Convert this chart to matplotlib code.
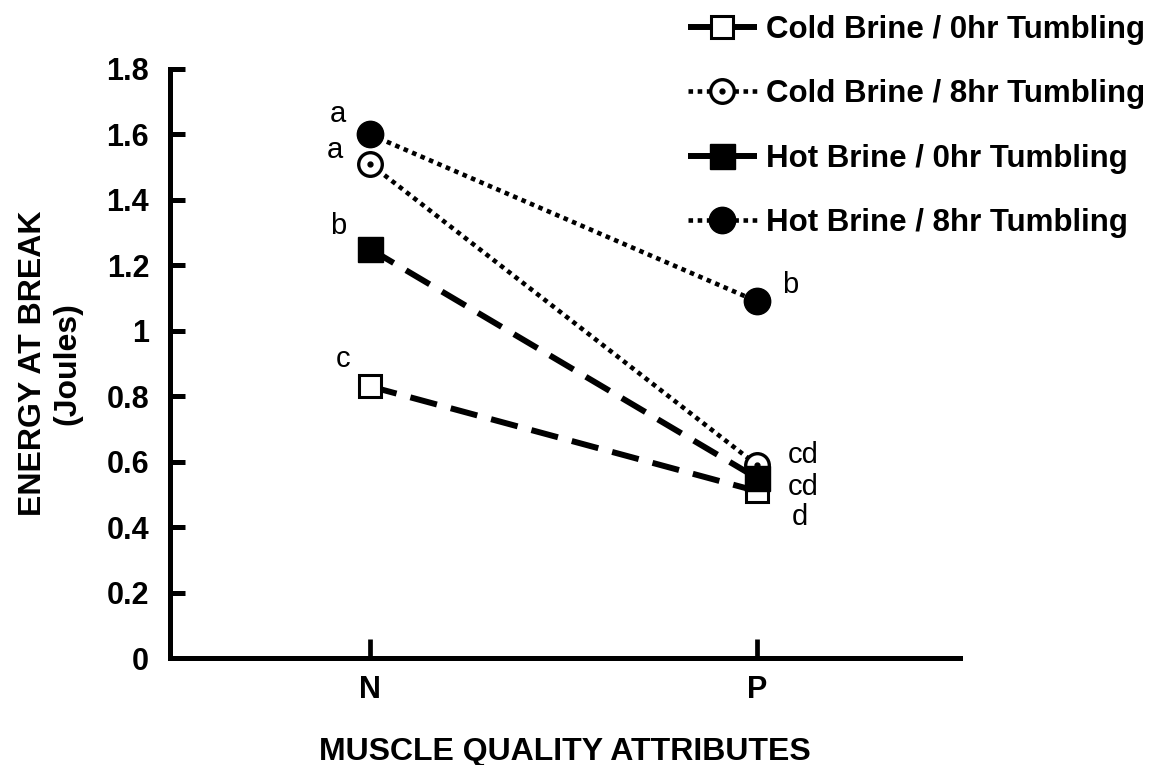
import matplotlib
matplotlib.use("Agg")
import matplotlib.pyplot as plt
from matplotlib.legend_handler import HandlerTuple

plt.rcParams['font.family'] = ['Liberation Sans', 'DejaVu Sans']

# muscle quality categories on the x axis
categories = ['N', 'P']

# energy at break (Joules), one list per treatment
cold_0hr = [0.83, 0.51]
cold_8hr = [1.51, 0.59]
hot_0hr = [1.25, 0.55]
hot_8hr = [1.60, 1.09]

# mean separation letters
cold_0hr_letters = ['c', 'd']
cold_8hr_letters = ['a', 'cd']
hot_0hr_letters = ['b', 'cd']
hot_8hr_letters = ['a', 'b']

series_names = ['Cold Brine / 0hr Tumbling', 'Cold Brine / 8hr Tumbling',
                'Hot Brine / 0hr Tumbling', 'Hot Brine / 8hr Tumbling']

yticks = [0, 0.2, 0.4, 0.6, 0.8, 1, 1.2, 1.4, 1.6, 1.8]
ytick_labels = ['0', '0.2', '0.4', '0.6', '0.8', '1', '1.2', '1.4', '1.6', '1.8']

fig = plt.figure(figsize=(11.71, 7.65), dpi=100)
ax = fig.add_axes([170 / 1171, 1 - 658 / 765, 790 / 1171, 589 / 765])

x = list(range(len(categories)))
dash_long = (4.6, 2.4)
dots = (1.0, 1.0)

l1, = ax.plot(x, cold_0hr, color='black', lw=4.3, dashes=dash_long, marker='s',
              ms=16, mfc='white', mec='black', mew=2.2, zorder=3)
l2, = ax.plot(x, cold_8hr, color='black', lw=3.3, dashes=dots, marker='o',
              ms=17, mfc='white', mec='black', mew=2.4, zorder=4)
d2, = ax.plot(x, cold_8hr, ls='none', marker='o', ms=3.5, color='black', zorder=4)
l3, = ax.plot(x, hot_0hr, color='black', lw=4.3, dashes=dash_long, marker='s',
              ms=18, mfc='black', mec='black', zorder=5)
l4, = ax.plot(x, hot_8hr, color='black', lw=3.3, dashes=dots, marker='o',
              ms=19, mfc='black', mec='black', zorder=6)

# letter offsets (points) for N and P, per series
letter_sets = [
    (cold_0hr, cold_0hr_letters, [(-19.5, 20), (31, -18.5)]),
    (cold_8hr, cold_8hr_letters, [(-25, 10), (33, 7.5)]),
    (hot_0hr, hot_0hr_letters, [(-23, 16.5), (33, -6.5)]),
    (hot_8hr, hot_8hr_letters, [(-23, 15), (24, 12)]),
]
for values, letters, offsets in letter_sets:
    for xi, yi, txt, off in zip(x, values, letters, offsets):
        ax.annotate(txt, (xi, yi), xytext=off, textcoords='offset points',
                    ha='center', va='center', fontsize=21)

ax.set_xlim(-0.517, 1.525)
ax.set_ylim(0, 1.8)
ax.set_xticks(x)
ax.set_xticklabels(categories, fontsize=22, fontweight='bold')
ax.set_yticks(yticks)
ax.set_yticklabels(ytick_labels, fontsize=22, fontweight='bold')

ax.spines['top'].set_visible(False)
ax.spines['right'].set_visible(False)
ax.spines['left'].set_linewidth(3.6)
ax.spines['bottom'].set_linewidth(3.6)
ax.tick_params(axis='y', direction='in', length=11, width=3.6, pad=15)
ax.tick_params(axis='x', direction='in', length=14, width=3.4, pad=12)

ax.set_xlabel('MUSCLE QUALITY ATTRIBUTES', fontsize=23, fontweight='bold', labelpad=23)
ax.set_ylabel('ENERGY AT BREAK\n(Joules)', fontsize=23, fontweight='bold',
              labelpad=17, linespacing=1.2)

fig.legend([l1, (l2, d2), l3, l4], series_names,
           handler_map={tuple: HandlerTuple(ndivide=1)},
           loc='upper left', bbox_to_anchor=(688 / 1171, 1 - 15 / 765),
           frameon=False, borderpad=0, borderaxespad=0,
           prop={'size': 22.5, 'weight': 'bold'},
           handlelength=2.2, handletextpad=0.3, labelspacing=1.1)

fig.savefig('out.png', dpi=100)
